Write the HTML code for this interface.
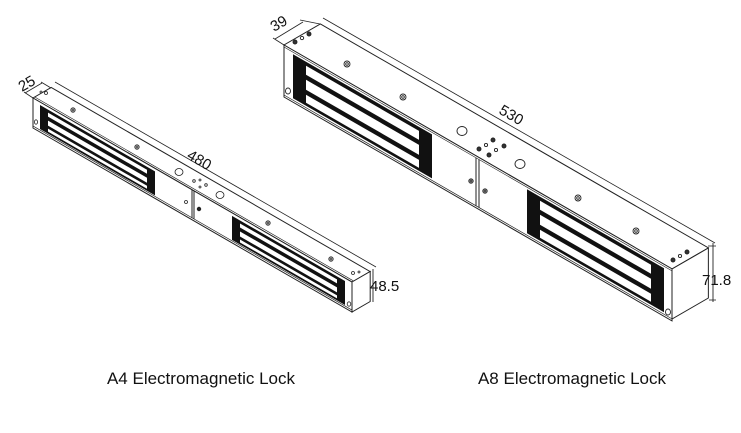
<!DOCTYPE html>
<html><head><meta charset="utf-8"><style>
html,body{margin:0;padding:0;background:#fff;}
svg{display:block}
text{font-family:"Liberation Sans","DejaVu Sans",sans-serif;fill:#111}
</style></head><body>
<svg width="741" height="433" viewBox="0 0 741 433" xmlns="http://www.w3.org/2000/svg">
<g fill="none" stroke="#222" stroke-width="1">

<!-- ================= A4 ================= -->
<!-- top face -->
<g transform="matrix(1 0.577 0.866 -0.5 33 98)">
  <rect x="0" y="0" width="319" height="21" fill="#fff" vector-effect="non-scaling-stroke"/>
  <line x1="0" y1="2" x2="319" y2="2" vector-effect="non-scaling-stroke" stroke-width="0.6"/>
</g>
<!-- end face -->
<g transform="matrix(0.866 -0.5 0 1 352 282)">
  <rect x="0" y="0" width="21" height="30" fill="#fff" vector-effect="non-scaling-stroke"/>
</g>
<!-- front face -->
<g transform="matrix(1 0.577 0 1 33 98)">
  <rect x="0" y="0" width="319" height="30" fill="#fff" vector-effect="non-scaling-stroke"/>
  <line x1="0" y1="28" x2="319" y2="28" vector-effect="non-scaling-stroke" stroke-width="0.7"/>
  <!-- left magnet -->
  <g stroke="none">
    <rect x="7" y="3" width="115" height="24" fill="#111"/>
    <rect x="15" y="6" width="99" height="4" fill="#fff"/>
    <rect x="15" y="14" width="99" height="5" fill="#fff"/>
    <rect x="15" y="22" width="99" height="3" fill="#fff"/>
    <rect x="199" y="3" width="113" height="24" fill="#111"/>
    <rect x="207" y="6" width="97" height="4" fill="#fff"/>
    <rect x="207" y="14" width="97" height="5" fill="#fff"/>
    <rect x="207" y="22" width="97" height="3" fill="#fff"/>
  </g>
  <line x1="159" y1="0" x2="159" y2="28" vector-effect="non-scaling-stroke"/>
  <line x1="161" y1="0" x2="161" y2="28" vector-effect="non-scaling-stroke"/>
</g>
<!-- A4 holes -->
<g stroke-width="0.8">
  <circle cx="73" cy="110" r="2.2"/><circle cx="73" cy="110" r="1"/>
  <circle cx="137" cy="147" r="2.2"/><circle cx="137" cy="147" r="1"/>
  <ellipse cx="179" cy="172" rx="4" ry="3.5"/>
  <ellipse cx="220" cy="195" rx="4" ry="3.5"/>
  <circle cx="194" cy="181" r="1.3"/><circle cx="200" cy="180" r="1"/>
  <circle cx="200" cy="187" r="1"/><circle cx="206" cy="185" r="1.3"/>
  <circle cx="268" cy="223" r="2.2"/><circle cx="268" cy="223" r="1"/>
  <circle cx="331" cy="259" r="2.2"/><circle cx="331" cy="259" r="1"/>
  <circle cx="353" cy="273" r="1.5"/><circle cx="359" cy="272" r="1"/>
  <circle cx="41" cy="92" r="1"/><circle cx="46" cy="93" r="1.5"/>
  <ellipse cx="36" cy="122" rx="1.6" ry="2.2"/>
  <circle cx="186" cy="202" r="1.5"/>
  <circle cx="199" cy="209" r="1.8" fill="#222"/>
  <ellipse cx="349" cy="304" rx="1.8" ry="2.2"/>
</g>
<!-- A4 dims -->
<line x1="25" y1="93" x2="42" y2="83" stroke-width="0.8"/>
<line x1="33" y1="98" x2="24" y2="92" stroke-width="0.8"/>
<line x1="51" y1="88" x2="41" y2="82" stroke-width="0.8"/>
<line x1="55" y1="82" x2="376" y2="267" stroke-width="0.8"/>
<line x1="373" y1="269" x2="373" y2="302" stroke-width="0.9"/>

<!-- ================= A8 ================= -->
<g transform="matrix(1 0.577 0.866 -0.5 284 45)">
  <rect x="0" y="0" width="388" height="42" fill="#fff" vector-effect="non-scaling-stroke"/>
</g>
<g transform="matrix(0.866 -0.5 0 1 672 269)">
  <rect x="0" y="0" width="42" height="50" fill="#fff" vector-effect="non-scaling-stroke"/>
</g>
<g transform="matrix(1 0.577 0 1 284 45)">
  <rect x="0" y="0" width="388" height="52" fill="#fff" vector-effect="non-scaling-stroke"/>
  <line x1="0" y1="2" x2="388" y2="2" vector-effect="non-scaling-stroke" stroke-width="0.6"/>
  <line x1="0" y1="50" x2="388" y2="50" vector-effect="non-scaling-stroke" stroke-width="0.7"/>
  <g stroke="none">
    <rect x="9" y="4" width="139" height="44" fill="#111"/>
    <rect x="22" y="8" width="113" height="9" fill="#fff"/>
    <rect x="22" y="22" width="113" height="10" fill="#fff"/>
    <rect x="22" y="37" width="113" height="8" fill="#fff"/>
    <rect x="243" y="4" width="137" height="44" fill="#111"/>
    <rect x="256" y="8" width="111" height="9" fill="#fff"/>
    <rect x="256" y="22" width="111" height="10" fill="#fff"/>
    <rect x="256" y="37" width="111" height="8" fill="#fff"/>
  </g>
  <line x1="192" y1="2" x2="192" y2="50" vector-effect="non-scaling-stroke"/>
  <line x1="195" y1="2" x2="195" y2="50" vector-effect="non-scaling-stroke"/>
</g>
<!-- A8 holes -->
<g stroke-width="0.9">
  <circle cx="295" cy="42" r="2" fill="#333"/><circle cx="302" cy="38" r="1.7"/><circle cx="309" cy="34" r="2" fill="#333"/>
  <circle cx="347" cy="64" r="3"/><circle cx="347" cy="64" r="1.3"/>
  <circle cx="403" cy="97" r="3"/><circle cx="403" cy="97" r="1.3"/>
  <ellipse cx="462" cy="131" rx="5" ry="4.5"/>
  <ellipse cx="520" cy="164" rx="5" ry="4.5"/>
  <circle cx="479" cy="149" r="2" fill="#333"/><circle cx="486" cy="145" r="1.6"/>
  <circle cx="493" cy="140" r="2" fill="#333"/><circle cx="489" cy="155" r="2" fill="#333"/>
  <circle cx="496" cy="150" r="1.6"/><circle cx="504" cy="146" r="2" fill="#333"/>
  <circle cx="578" cy="198" r="3"/><circle cx="578" cy="198" r="1.3"/>
  <circle cx="636" cy="231" r="3"/><circle cx="636" cy="231" r="1.3"/>
  <circle cx="673" cy="260" r="2" fill="#333"/><circle cx="680" cy="256" r="1.6"/><circle cx="687" cy="252" r="2" fill="#333"/>
  <ellipse cx="288" cy="91" rx="2.5" ry="3"/>
  <circle cx="471" cy="181" r="2.2"/><circle cx="471" cy="181" r="1"/>
  <circle cx="485" cy="191" r="2.2"/><circle cx="485" cy="191" r="1"/>
  <ellipse cx="668" cy="312" rx="2.5" ry="3"/>
</g>
<!-- A8 dims -->
<line x1="275" y1="39" x2="303" y2="22" stroke-width="0.8"/>
<line x1="284" y1="45" x2="273" y2="38" stroke-width="0.8"/>
<line x1="320" y1="24" x2="300" y2="20" stroke-width="0.8"/>
<line x1="323" y1="18" x2="715" y2="243" stroke-width="0.8"/>
<line x1="713" y1="243" x2="713" y2="302" stroke-width="0.9"/>
<line x1="708" y1="246" x2="716" y2="246" stroke-width="0.8"/>
<line x1="709" y1="300" x2="716" y2="300" stroke-width="0.8"/>
</g>

<!-- labels -->
<text x="0" y="0" font-size="15" transform="translate(22,92) rotate(-30)">25</text>
<text x="0" y="0" font-size="15" transform="translate(186,158) rotate(30)">480</text>
<text x="370" y="291" font-size="15">48.5</text>
<text x="0" y="0" font-size="15" transform="translate(274,32) rotate(-30)">39</text>
<text x="0" y="0" font-size="15" transform="translate(498,113) rotate(30)">530</text>
<text x="702" y="285" font-size="15">71.8</text>
<text x="201" y="384" font-size="17" text-anchor="middle">A4 Electromagnetic Lock</text>
<text x="572" y="384" font-size="17" text-anchor="middle">A8 Electromagnetic Lock</text>
</svg>
</body></html>
